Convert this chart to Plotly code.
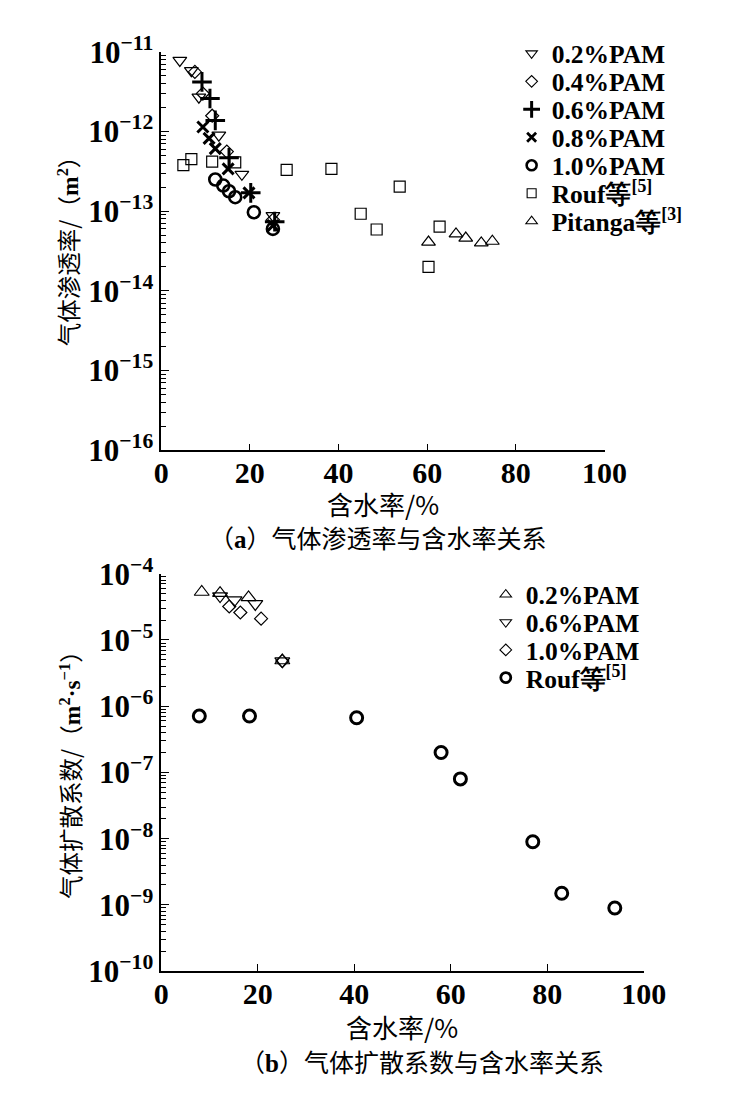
import plotly.graph_objects as go

W, H = 729, 1103

# ---------------- data: (a) gas permeability vs water content ----------------
pam02_x = [4.2, 6.8, 8.5, 13.0, 18.2, 25.2]
pam02_y = [7.8e-12, 5.8e-12, 2.7e-12, 9.0e-13, 2.9e-13, 8.8e-14]
pam04_x = [7.6, 9.4, 11.5, 14.8, 25.2]
pam04_y = [5.6e-12, 3.0e-12, 1.58e-12, 5.6e-13, 7.8e-14]
pam06_x = [9.2, 11.0, 12.2, 15.3, 20.2, 25.6]
pam06_y = [4.2e-12, 2.6e-12, 1.38e-12, 4.7e-13, 1.7e-13, 7.4e-14]
pam08_x = [9.4, 10.8, 12.2, 15.1, 19.8, 25.2]
pam08_y = [1.14e-12, 8.2e-13, 6.1e-13, 3.4e-13, 1.7e-13, 6.6e-14]
pam10_x = [12.2, 14.0, 15.3, 16.7, 20.9, 25.2]
pam10_y = [2.5e-13, 2.1e-13, 1.78e-13, 1.5e-13, 9.7e-14, 6.0e-14]
rouf_k_x = [5.0, 6.8, 11.5, 16.7, 28.3, 38.4, 45.0, 48.6, 53.8, 60.3, 62.8]
rouf_k_y = [3.8e-13, 4.5e-13, 4.2e-13, 4.1e-13, 3.3e-13, 3.4e-13, 9.3e-14, 5.9e-14, 2.04e-13, 2.0e-14, 6.4e-14]
pitanga_x = [60.3, 66.5, 68.7, 72.2, 74.7]
pitanga_y = [4.1e-14, 5.2e-14, 4.6e-14, 4.0e-14, 4.2e-14]

# ---------------- data: (b) gas diffusion coefficient vs water content ----------------
d02_x = [8.4, 12.2, 18.1, 25.1]
d02_y = [5.3e-5, 5.1e-5, 4.4e-5, 4.9e-6]
d06_x = [12.2, 15.2, 19.5, 25.1]
d06_y = [4.6e-5, 4.0e-5, 3.5e-5, 4.8e-6]
d10_x = [14.1, 16.4, 20.7, 25.1]
d10_y = [3.2e-5, 2.6e-5, 2.1e-5, 4.8e-6]
rouf_d_x = [7.9, 18.3, 40.5, 58.0, 62.0, 77.0, 83.0, 94.0]
rouf_d_y = [7.1e-7, 7.1e-7, 6.7e-7, 2.0e-7, 8.0e-8, 9.0e-9, 1.5e-9, 9.0e-10]

# ---------------- tick labels ----------------
x_ticks = [0, 20, 40, 60, 80, 100]
x_ticktext = ["0", "20", "40", "60", "80", "100"]
ya_exps = [-16, -15, -14, -13, -12, -11]
yb_exps = [-10, -9, -8, -7, -6, -5, -4]

SERIF = "Liberation Serif"
CJK = "Noto Sans CJK SC"
BLACK = "black"


def sup_labels(exps):
    return ["10<sup>\u2212%d</sup>" % (-e) for e in exps]


def minor_vals(exps):
    return [m * 10.0 ** e for e in exps[:-1] for m in range(2, 10)]


fig = go.Figure()

top_series = [
    ("0.2%PAM", pam02_x, pam02_y, "triangle-down-open", 12, 1.2, 10, 1.1),
    ("0.4%PAM", pam04_x, pam04_y, "diamond-open", 10, 1.2, 9, 1.1),
    ("0.6%PAM", pam06_x, pam06_y, "cross-thin", 14, 3.0, 12, 3.0),
    ("0.8%PAM", pam08_x, pam08_y, "x-thin", 11, 3.0, 9, 2.8),
    ("1.0%PAM", pam10_x, pam10_y, "circle-open", 12, 2.6, 10, 2.6),
    ("Rouf等<sup>[5]</sup>", rouf_k_x, rouf_k_y, "square-open", 11, 1.2, 9, 1.1),
    ("Pitanga等<sup>[3]</sup>", pitanga_x, pitanga_y, "triangle-up-open", 12, 1.2, 10, 1.1),
]

bottom_series = [
    ("0.2%PAM", d02_x, d02_y, "triangle-up-open", 13, 1.2, 10, 1.1),
    ("0.6%PAM", d06_x, d06_y, "triangle-down-open", 13, 1.2, 10, 1.1),
    ("1.0%PAM", d10_x, d10_y, "diamond-open", 10, 1.2, 9, 1.1),
    ("Rouf等<sup>[5]</sup>", rouf_d_x, rouf_d_y, "circle-open", 12, 3.0, 10, 2.8),
]

legends = {}
lid = 1


def add_series(series, xa, ya, leg_x_px, leg_y0_px, leg_dy_px):
    global lid
    for i, (name, xs, ys, sym, sz, lw, lsz, llw) in enumerate(series):
        fig.add_trace(go.Scatter(
            x=xs, y=ys, mode="markers", xaxis=xa, yaxis=ya, showlegend=False,
            marker=dict(symbol=sym, size=sz, color=BLACK,
                        line=dict(color=BLACK, width=lw)),
            hoverinfo="skip"))
        key = "legend" if lid == 1 else "legend%d" % lid
        fig.add_trace(go.Scatter(
            x=[None], y=[None], mode="markers", xaxis=xa, yaxis=ya,
            name=name, legend=key, showlegend=True,
            marker=dict(symbol=sym, size=lsz, color=BLACK,
                        line=dict(color=BLACK, width=llw))))
        legends[key] = dict(
            x=leg_x_px / W, y=1 - (leg_y0_px + i * leg_dy_px) / H,
            xanchor="left", yanchor="middle",
            bgcolor="rgba(0,0,0,0)", borderwidth=0,
            font=dict(family=SERIF, size=25.5, color=BLACK, weight="bold"))
        lid += 1


add_series(top_series, "x", "y", 526, 34, 29)
add_series(bottom_series, "x2", "y2", 499, 595, 28.7)

axis_common = dict(
    showline=True, linecolor=BLACK, linewidth=1.5, mirror=False,
    showgrid=False, zeroline=False, ticks="inside", tickcolor=BLACK,
    tickwidth=1.3,
)
xfont = dict(family=SERIF, size=30, color=BLACK, weight="bold")
yfont = dict(family=SERIF, size=31, color=BLACK, weight="bold")

fig.update_layout(
    width=W, height=H, paper_bgcolor="white", plot_bgcolor="white",
    margin=dict(l=0, r=0, t=0, b=0),
    xaxis=dict(domain=[160 / W, 623 / W], range=[0, 100], tickmode="array",
               tickvals=x_ticks, ticktext=x_ticktext, ticklen=7, anchor="y",
               tickfont=xfont, ticklabelstandoff=-5, **axis_common),
    yaxis=dict(domain=[1 - 445 / H, 1 - 32 / H], type="log", range=[-16, -11],
               tickmode="array", tickvals=[10.0 ** e for e in ya_exps],
               ticktext=sup_labels(ya_exps), ticklen=8, anchor="x", tickfont=yfont,
               minor=dict(tickmode="array", tickvals=minor_vals(ya_exps),
                          ticks="inside", ticklen=5, tickcolor=BLACK, tickwidth=1.2),
               **axis_common),
    xaxis2=dict(domain=[160 / W, 664 / W], range=[0, 100], tickmode="array",
                tickvals=x_ticks, ticktext=x_ticktext, ticklen=7, anchor="y2",
                tickfont=xfont, ticklabelstandoff=-5, **axis_common),
    yaxis2=dict(domain=[1 - 985 / H, 1 - 573 / H], type="log", range=[-10, -4],
                tickmode="array", tickvals=[10.0 ** e for e in yb_exps],
                ticktext=sup_labels(yb_exps), ticklen=8, anchor="x2", tickfont=yfont,
                minor=dict(tickmode="array", tickvals=minor_vals(yb_exps),
                           ticks="inside", ticklen=5, tickcolor=BLACK, tickwidth=1.2),
                **axis_common),
    showlegend=True,
)
fig.update_layout(**legends)

SER = "<span style='font-family:Liberation Serif'><b>%s</b></span>"


def ann(text, xpx, ypx, size=26, angle=0):
    fig.add_annotation(text=text, x=xpx / W, y=1 - ypx / H, xref="paper", yref="paper",
                       showarrow=False, xanchor="center", yanchor="middle",
                       textangle=angle, font=dict(family=CJK, size=size, color=BLACK))


ann("气体渗透率/（" + SER % "m<sup>2</sup>" + "）", 62, 232, 23.5, -90)
ann("含水率/%", 392, 500, 26)
ann("（" + SER % "a" + "）气体渗透率与含水率关系", 386, 535, 25)

ann("气体扩散系数/（" + SER % "m<sup>2</sup>·s<sup>\u22121</sup>" + "）", 64, 775, 23.5, -90)
ann("含水率/%", 412, 1042, 26)
ann("（" + SER % "b" + "）气体扩散系数与含水率关系", 432, 1078, 25)

fig.write_html("out.html", config={"displayModeBar": False},
               post_script="document.body.style.margin='0px';")
